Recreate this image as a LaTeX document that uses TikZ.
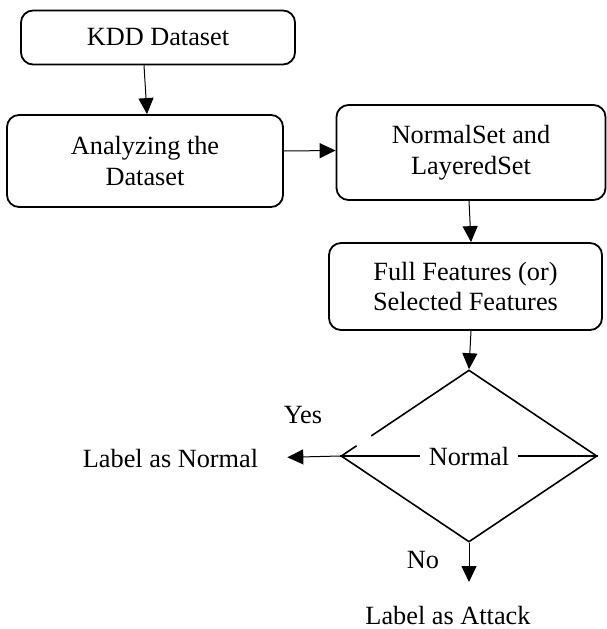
\documentclass[tikz,border=0pt]{standalone}
\usepackage{fontspec}
\setmainfont{Liberation Serif}
\newfontfamily\tnrfont{Liberation Serif}
\usetikzlibrary{shapes.geometric,arrows.meta,calc}
\tikzset{
  box/.style={draw, line width=1.8pt, rounded corners=12pt, align=center, inner sep=0pt},
  arr/.style={line width=1pt, -{Triangle[length=16pt,width=15pt]}},
  lbl/.style={inner sep=0pt},
}
\begin{document}
\begin{tikzpicture}[x=1pt,y=-1pt,font=\tnrfont\fontsize{26.3}{30.5}\selectfont]
\useasboundingbox (0,0) rectangle (607,629);
\node[box, minimum width=274pt, minimum height=54pt] (kdd) at (158,37.5) {KDD Dataset};
\node[box, minimum width=276pt, minimum height=92pt] (ana) at (145,161) {Analyzing the\\Dataset};
\node[box, minimum width=269pt, minimum height=95pt] (ns) at (471,152.5) {NormalSet and\\LayeredSet};
\node[box, minimum width=273pt, minimum height=87pt] (ff) at (465.5,286.5) {Full Features (or)\\Selected Features};
\node[diamond, draw, line width=1.6pt, minimum width=256pt, minimum height=172pt, inner sep=0pt] (dec) at (469,456) {};
\draw[line width=1.6pt] (dec.west) -- (dec.east);
\draw[white, line width=5pt] ($(dec.west)!0.125!(dec.north)$) -- ($(dec.west)!0.237!(dec.north)$);
\node[fill=white, inner xsep=9pt, inner ysep=2pt] (normtxt) at (469,456) {Normal};
\node[lbl] (lnorm) at (170.5,458) {Label as Normal};
\node[lbl] (lattack) at (448,615) {Label as Attack};
\node[lbl] (yes) at (303,415) {Yes};
\node[lbl] (no) at (423,560) {No};
\coordinate (noend) at (469,582);
\draw[arr] ([xshift=-14pt]kdd.south) -- ([xshift=2pt]ana.north);
\draw[arr] ([yshift=10pt]ana.east) -- ([yshift=2pt]ns.west);
\draw[arr] ([xshift=-2pt]ns.south) -- ([xshift=5.5pt]ff.north);
\draw[arr] ([xshift=5.5pt]ff.south) -- (dec.north);
\draw[arr, shorten >=29pt] (dec.west) -- (lnorm.east);
\draw[arr] (dec.south) -- (noend);
\end{tikzpicture}
\end{document}
